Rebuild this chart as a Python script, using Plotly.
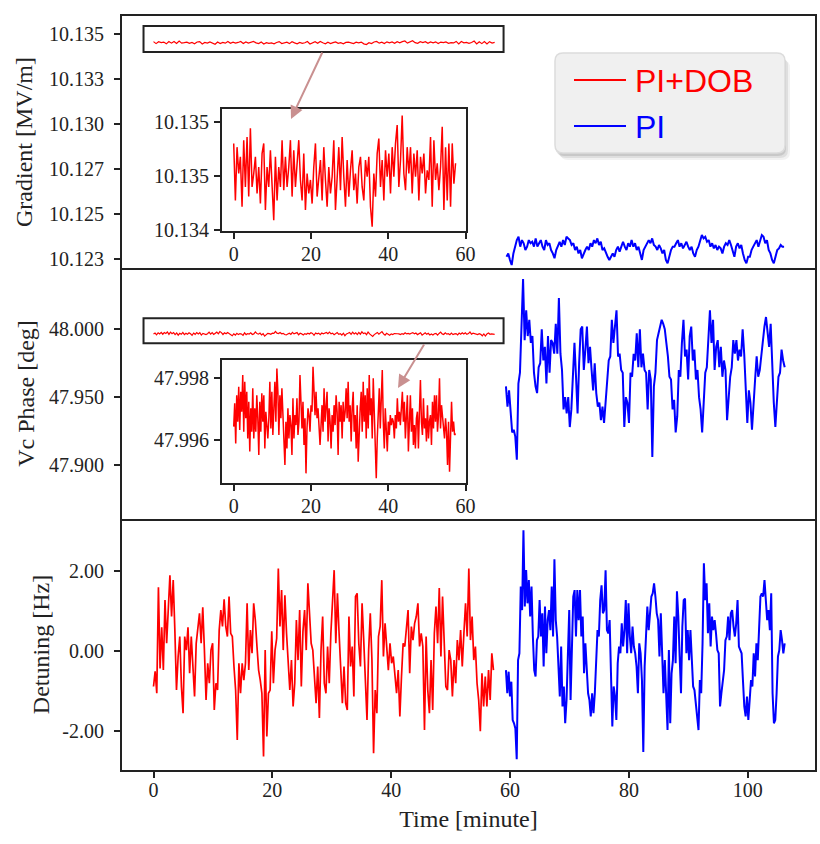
import numpy as np
import plotly.graph_objects as go

# ---------------- data ----------------
red_detuning = [
    -0.88, -0.5, -1.05, 1.6, -0.43, 0.6, -0.47, 1.28, 0.2, 1.3, 1.9, 0.87, 1.78, 0.53, -0.97, -0.13, 0.37, -0.88, -1.55, 0.37,
    0.03, 0.6, -0.55, 0.37, -0.3, -1.13, 0.2, 0.62, 0.95, 0.2, 1.1, 0.03, -1.22, -0.3, -0.8, 0.03, 0.2, -1.47, -0.8, -0.97,
    0.53, 1.03, 0.62, 1.3, 0.62, 0.37, 1.37, 0.45, 0.37, -0.38, -0.97, -2.22, -0.3, -1.05, -0.3, -0.72, -0.3, 1.2, -0.47, 0.53,
    -0.05, 1.2, 0.78, 0.12, -0.47, -0.72, -1.05, -2.63, 0.03, -2.13, -1.05, -0.97, 0.5, -0.8, 0.03, 0.32, 2.07, 0.62, 1.53, 0.03,
    1.4, 0.45, -0.13, -0.97, -0.22, -1.38, -0.8, 0.78, -0.22, 1.03, -0.88, 0.5, 1.03, 0.03, 1.7, 1.03, 0.2, 0.03, -0.72, -1.3,
    -0.38, -1.67, 0.03,
    0.87, -0.8, -1.05, 0.12, -0.8, 0.45, 1.45, 2.03, 0.2, 1.45, 0.45, -0.47, -1.3, -0.38, -1.3, -1.47, 0.87, -0.38, 0.12, -1.13,
    1.37, 1.45, 0.2, -0.38, 1.2, 0.28, -0.63, -1.72, 0.03, 0.95, -0.22, -2.55, -0.97, -1.55, 0.37, 0.62, 1.78, -0.13, 0.7, 0.03,
    -0.47, 0.2, -0.3, -0.13, -0.63, -1.05, -0.47, -1.63, -0.63, 0.2, 0.12, 0.62, 1.03, -0.55, 0.62, 0.28, 0.7, 0.87, 1.2, 0.12,
    0.45, 0.12, -1.97, 0.37, -0.97, -1.55, -0.22, -1.47, 0.45, 1.12, 0.2, 1.58, -0.13, 1.37, 0.03, -0.88, -0.97, 0.03, -0.22, -1.13,
    -0.22, -0.8, 0.28, -0.22, 0.53, -0.38, 0.45, 1.2, 0.37, 2.07, 0.28, 0.87, -0.22, 0.12, -0.8, -1.22, -2.0, -0.55, -1.38, -0.63,
    -1.38, -0.47, -1.22, -0.05, -0.47,
]

blue_detuning = [
    -0.47, -1.05, -0.51, -1.13, -0.76, -1.72, -1.8, -1.93, -2.7, -0.22, -0.05, 1.62, 1.03, 3.03, 1.12, 2.03, 1.2, 1.78, 0.87, 1.62,
    0.37, -0.47, -0.63, 0.28, 0.37, 1.28, 0.37, 0.95, -0.38, 1.12, -0.05, 0.78, 1.03, 0.53, 1.62, 0.37, 2.3, 0.78, 0.37, -0.55,
    -1.13, 0.12, -1.38, -0.88, -1.8, -1.22, -0.05, 1.03, -1.22, 0.03, 1.37, 1.53, 0.37, 1.53, 0.78, 1.53, 0.37, 0.87, -0.55, 0.2,
    -0.47, -1.05, -1.22, -1.63, -1.05, -1.55, -1.05, -0.05, 0.53, 0.37, 1.28, 1.65, 0.95, 1.03, 2.03, 0.53, 0.45, 0.78, -0.63, -1.88,
    -0.88, -1.13, -1.72, -0.3, 0.12, -0.05, 0.7, 0.12, 0.53, 1.28, -0.05, 1.2, 0.37, -0.05, 0.62, 0.12, -0.05, -0.38, -1.05, 0.2,
    -0.05, -0.72,
    -2.52, -0.38, 0.37, 1.12, 0.53, 0.95, 1.37, 1.45, 1.7, 1.37, 0.95, 0.78, -0.13, 0.95, 0.12, -1.05, -0.22, -1.22, -1.97, 0.03,
    -1.8, -0.55, -0.22, 0.87, -0.3, 1.5, 0.87, -0.13, -1.05, 0.62, 1.28, 1.32, -0.05, 0.53, -0.22, 0.53, -0.05, -0.88, -0.97, -1.3,
    -1.72, -1.97, -0.72, -1.05, 0.2, 2.2, 1.28, 1.7, 0.45, 1.2, 0.12, 0.87, 0.53, 0.78, 0.45, 0.03, -0.05, -1.38, -1.05, -0.72,
    -0.47, 0.28, 0.37, 0.87, 0.28, 0.95, 1.03, 0.62, 0.37, 0.7, 1.28, 0.12, 0.03, -0.05, -0.72, -1.38, -1.63, -1.13, -1.72, -1.05,
    -0.72, -0.88, -0.05, -0.63, 0.2, -0.22, 0.87, 1.37, 1.45, 1.37, 1.78, 1.2, 0.78, 1.03, 0.53, 1.45, -1.05, -1.8, -1.72, -1.05,
    -0.13, 0.03, 0.53, 0.28, -0.05, 0.2,
]

red_phase = [
    47.99643, 47.99718, 47.99589, 47.99744, 47.99659, 47.99771, 47.99632, 47.99755, 47.99691, 47.99809,
    47.99627, 47.99787, 47.99670, 47.99755, 47.99605, 47.99723, 47.99563, 47.99702, 47.99627, 47.99766,
    47.99605, 47.99702, 47.99627, 47.99744, 47.99670, 47.99552, 47.99723, 47.99627, 47.99750, 47.99659,
    47.99744, 47.99573, 47.99691, 47.99648, 47.99605, 47.99670, 47.99787, 47.99637, 47.99755, 47.99616,
    47.99691, 47.99787, 47.99659, 47.99830, 47.99755, 47.99616, 47.99744, 47.99670, 47.99766, 47.99691,
    47.99616, 47.99520, 47.99659, 47.99573, 47.99702, 47.99605, 47.99680, 47.99648, 47.99552, 47.99734,
    47.99605, 47.99680, 47.99648, 47.99734, 47.99616, 47.99659, 47.99809, 47.99680, 47.99637, 47.99723,
    47.99584, 47.99670, 47.99493, 47.99637, 47.99702, 47.99680, 47.99627, 47.99712, 47.99691, 47.99835,
    47.99712, 47.99680, 47.99755, 47.99670, 47.99702, 47.99616, 47.99584, 47.99648, 47.99712, 47.99627,
    47.99766, 47.99659, 47.99702, 47.99755, 47.99595, 47.99702, 47.99659, 47.99573, 47.99680, 47.99627,
    47.99712, 47.99648, 47.99744, 47.99691, 47.99552, 47.99723, 47.99659, 47.99712, 47.99605, 47.99723,
    47.99659, 47.99691, 47.99766, 47.99670, 47.99787, 47.99659, 47.99712, 47.99595, 47.99702, 47.99755,
    47.99627, 47.99680, 47.99573, 47.99712, 47.99530, 47.99659, 47.99702, 47.99755, 47.99627, 47.99787,
    47.99659, 47.99744, 47.99605, 47.99766, 47.99637, 47.99809, 47.99680, 47.99734, 47.99605, 47.99798,
    47.99659, 47.99563, 47.99477, 47.99605, 47.99680, 47.99766, 47.99637, 47.99723, 47.99825, 47.99659,
    47.99573, 47.99702, 47.99627, 47.99563, 47.99659, 47.99616, 47.99680, 47.99648, 47.99670, 47.99659,
    47.99605, 47.99680, 47.99637, 47.99734, 47.99659, 47.99691, 47.99648, 47.99712, 47.99755, 47.99659,
    47.99723, 47.99605, 47.99702, 47.99744, 47.99563, 47.99659, 47.99744, 47.99627, 47.99702, 47.99584,
    47.99648, 47.99573, 47.99670, 47.99691, 47.99573, 47.99691, 47.99793, 47.99659, 47.99616, 47.99734,
    47.99637, 47.99670, 47.99595, 47.99712, 47.99605, 47.99659, 47.99680, 47.99584, 47.99723, 47.99637,
    47.99744, 47.99659, 47.99744, 47.99627, 47.99680, 47.99798, 47.99637, 47.99712, 47.99680, 47.99659,
    47.99605, 47.99670, 47.99627, 47.99520, 47.99659, 47.99498, 47.99659, 47.99723, 47.99627, 47.99659,
    47.99616, 47.99621,
]

blue_phase = [
    47.958, 47.943, 47.955, 47.941, 47.924, 47.926, 47.921, 47.904, 47.960, 47.968, 48.002, 48.037, 47.992, 48.014, 47.995, 48.007,
    47.990, 47.995, 47.968, 47.958, 47.953, 47.972, 47.975, 48.000, 47.977, 47.987, 47.960, 47.995, 47.968, 47.992, 47.990, 47.982,
    48.004, 47.982, 48.023, 47.982, 47.970, 47.941, 47.950, 47.938, 47.950, 47.928, 47.941, 47.970, 47.990, 47.965, 47.938, 47.975,
    48.000, 48.002, 47.970, 47.985, 48.002, 47.975, 47.987, 47.970, 47.955, 47.975, 47.953, 47.943, 47.946, 47.933, 47.943, 47.931,
    47.946, 47.965, 47.977, 47.980, 48.007, 47.990, 48.000, 48.014, 47.980, 47.982, 47.970, 47.968, 47.928, 47.950, 47.946, 47.931,
    47.968, 47.965, 47.982, 47.977, 47.997, 47.972, 48.000, 47.972, 47.982, 47.970, 47.968, 47.941, 47.970, 47.963, 47.906, 47.958,
    47.968, 47.992, 47.997, 48.002, 48.007, 48.004, 48.000, 47.990, 47.980, 47.965, 47.963, 47.941, 47.948, 47.924, 47.936, 47.970,
    47.965, 47.990, 48.007, 47.980, 47.985, 47.963, 47.995, 48.002, 47.977, 47.985, 47.963, 47.970, 47.950, 47.941, 47.924, 47.946,
    47.968, 47.972, 47.995, 48.014, 47.990, 48.007, 47.970, 47.987, 47.992, 47.972, 47.987, 47.965, 47.977, 47.970, 47.933, 47.950,
    47.965, 47.972, 47.992, 47.982, 47.992, 47.977, 47.985, 47.980, 48.000, 47.982, 47.960, 47.931, 47.955, 47.946, 47.926, 47.950,
    47.963, 47.980, 47.965, 47.970, 47.982, 47.990, 48.002, 48.009, 47.995, 47.987, 48.004, 47.970, 47.946, 47.928, 47.946, 47.965,
    47.968, 47.985, 47.977, 47.972,
]

red_gradient = [
    10.134611, 10.134505, 10.134604, 10.134555, 10.134586, 10.134493, 10.134617, 10.134530, 10.134623, 10.134512,
    10.134639, 10.134530, 10.134555, 10.134586, 10.134518, 10.134567, 10.134499, 10.134592, 10.134611, 10.134487,
    10.134567, 10.134530, 10.134598, 10.134530, 10.134468, 10.134586, 10.134505, 10.134567, 10.134530, 10.134617,
    10.134524, 10.134586, 10.134530, 10.134567, 10.134617, 10.134512, 10.134598, 10.134530, 10.134567, 10.134617,
    10.134543, 10.134505, 10.134592, 10.134487, 10.134555, 10.134518, 10.134543, 10.134499, 10.134567, 10.134611,
    10.134512, 10.134549, 10.134580, 10.134505, 10.134604, 10.134543, 10.134493, 10.134567, 10.134518, 10.134549,
    10.134617, 10.134487, 10.134555, 10.134604, 10.134524, 10.134623, 10.134549, 10.134493, 10.134580, 10.134512,
    10.134561, 10.134598, 10.134524, 10.134555, 10.134499, 10.134567, 10.134586, 10.134530, 10.134505, 10.134580,
    10.134549, 10.134586, 10.134493, 10.134456, 10.134555, 10.134512, 10.134592, 10.134620, 10.134530, 10.134580,
    10.134505, 10.134598, 10.134549, 10.134592, 10.134518, 10.134604, 10.134549, 10.134611, 10.134645, 10.134530,
    10.134580, 10.134663, 10.134555, 10.134524, 10.134604, 10.134555, 10.134604, 10.134518, 10.134592, 10.134549,
    10.134598, 10.134505, 10.134586, 10.134555, 10.134592, 10.134518, 10.134561, 10.134543, 10.134623, 10.134493,
    10.134617, 10.134543, 10.134574, 10.134524, 10.134567, 10.134642, 10.134487, 10.134604, 10.134505, 10.134611,
    10.134493, 10.134611, 10.134536, 10.134574,
]

blue_gradient = [
    10.12312, 10.12330, 10.12295, 10.12268, 10.12330, 10.12366, 10.12401, 10.12419, 10.12366, 10.12401, 10.12384, 10.12348,
    10.12366, 10.12401, 10.12384, 10.12392, 10.12366, 10.12410, 10.12366, 10.12384, 10.12401, 10.12366, 10.12348, 10.12401,
    10.12375, 10.12384, 10.12348, 10.12330, 10.12304, 10.12348, 10.12366, 10.12392, 10.12366, 10.12401, 10.12375, 10.12419,
    10.12410, 10.12401, 10.12375, 10.12384, 10.12348, 10.12366, 10.12330, 10.12348, 10.12304, 10.12330, 10.12348, 10.12366,
    10.12348, 10.12384, 10.12366, 10.12401, 10.12384, 10.12410, 10.12375, 10.12392, 10.12348, 10.12357, 10.12330, 10.12312,
    10.12295, 10.12312, 10.12330, 10.12312, 10.12348, 10.12366, 10.12339, 10.12366, 10.12392, 10.12366, 10.12348, 10.12384,
    10.12366, 10.12401, 10.12366, 10.12384, 10.12348, 10.12366, 10.12330, 10.12295, 10.12348, 10.12366, 10.12384, 10.12401,
    10.12384, 10.12410, 10.12375, 10.12366, 10.12348, 10.12375, 10.12357, 10.12330, 10.12348, 10.12295, 10.12277, 10.12312,
    10.12348, 10.12366, 10.12366, 10.12384, 10.12401, 10.12366, 10.12384, 10.12357, 10.12375, 10.12392, 10.12366, 10.12348,
    10.12366, 10.12330, 10.12312, 10.12348, 10.12366, 10.12401, 10.12428, 10.12410, 10.12419, 10.12392, 10.12401, 10.12366,
    10.12384, 10.12357, 10.12375, 10.12348, 10.12366, 10.12357, 10.12330, 10.12366, 10.12384, 10.12375, 10.12401, 10.12375,
    10.12348, 10.12312, 10.12366, 10.12384, 10.12357, 10.12375, 10.12330, 10.12295, 10.12277, 10.12312, 10.12312, 10.12348,
    10.12366, 10.12384, 10.12401, 10.12366, 10.12401, 10.12428, 10.12419, 10.12384, 10.12401, 10.12348, 10.12330, 10.12295,
    10.12277, 10.12312, 10.12348, 10.12357, 10.12375, 10.12366, 10.12366,
]

# time spans of the two runs [minute]
red_t_start, red_t_end = 0.0, 57.2
blue_t_start, blue_t_end = 59.3, 106.2

series_names = ["PI+DOB", "PI"]
x_ticks = [0, 20, 40, 60, 80, 100]
inset_x_ticks = [0, 20, 40, 60]
grad_tickvals = [10.123, 10.1254, 10.1278, 10.1302, 10.1326, 10.135]
grad_ticktext = ["10.123", "10.125", "10.127", "10.130", "10.133", "10.135"]
phase_tickvals = [47.90, 47.95, 48.00]
phase_ticktext = ["47.900", "47.950", "48.000"]
det_tickvals = [-2, 0, 2]
det_ticktext = ["-2.00", "0.00", "2.00"]
ins_grad_tickvals = [10.13445, 10.13455, 10.13465]
ins_grad_ticktext = ["10.134", "10.135", "10.135"]
ins_phase_tickvals = [47.996, 47.998]
ins_phase_ticktext = ["47.996", "47.998"]

# ---------------- figure ----------------
def tl(a, b, n):
    return np.linspace(a, b, n)

t_rd = tl(red_t_start, red_t_end, len(red_detuning))
t_bd = tl(blue_t_start, blue_t_end, len(blue_detuning))
t_rp = tl(red_t_start, 57.4, len(red_phase))
t_bp = tl(blue_t_start, blue_t_end, len(blue_phase))
t_rg = tl(red_t_start, 57.4, len(red_gradient))
t_bg = tl(59.4, 106.1, len(blue_gradient))

RED = "#ff0000"
BLUE = "#0000ff"
fig = go.Figure()

fig.add_trace(go.Scatter(x=t_rd, y=red_detuning, mode="lines", line=dict(color=RED, width=1.7),
                         name=series_names[0], showlegend=False, xaxis="x", yaxis="y"))
fig.add_trace(go.Scatter(x=t_bd, y=blue_detuning, mode="lines", line=dict(color=BLUE, width=2),
                         name=series_names[1], showlegend=False, xaxis="x", yaxis="y"))
fig.add_trace(go.Scatter(x=t_rp, y=red_phase, mode="lines", line=dict(color=RED, width=1.2),
                         name=series_names[0], showlegend=False, xaxis="x2", yaxis="y2"))
fig.add_trace(go.Scatter(x=t_bp, y=blue_phase, mode="lines", line=dict(color=BLUE, width=2),
                         name=series_names[1], showlegend=False, xaxis="x2", yaxis="y2"))
fig.add_trace(go.Scatter(x=t_rg, y=red_gradient, mode="lines", line=dict(color=RED, width=1.2),
                         name=series_names[0], showlegend=False, xaxis="x3", yaxis="y3"))
fig.add_trace(go.Scatter(x=t_bg, y=blue_gradient, mode="lines", line=dict(color=BLUE, width=2),
                         name=series_names[1], showlegend=False, xaxis="x3", yaxis="y3"))
# insets
fig.add_trace(go.Scatter(x=t_rg, y=red_gradient, mode="lines", line=dict(color=RED, width=1.5),
                         name=series_names[0], showlegend=False, xaxis="x4", yaxis="y4"))
fig.add_trace(go.Scatter(x=t_rp, y=red_phase, mode="lines", line=dict(color=RED, width=1.5),
                         name=series_names[0], showlegend=False, xaxis="x5", yaxis="y5"))

SERIF = "Liberation Serif"
INK = "#222"
tickfont = dict(family=SERIF, size=20, color=INK)
titlefont = dict(family=SERIF, size=24, color=INK)
yframe = dict(showline=True, mirror=True, linecolor=INK, linewidth=2, showgrid=False, zeroline=False, automargin=False)
base = dict(linecolor=INK, linewidth=2, showgrid=False, zeroline=False, automargin=False)

# paper geometry
L, R, T, B = 122, 5, 16, 74
W, H = 820, 844
PW, PH = W - L - R, H - T - B
def px(xp):
    return (xp - L) / PW
def py(yp):
    return (H - B - yp) / PH

d_bot = [0, py(519)]
d_mid = [py(519), py(268)]
d_top = [py(268), 1]
xr = [-5.3, 111.3]
yt = dict(ticks="outside", ticklen=6, tickwidth=1.5, tickcolor=INK, tickfont=tickfont)

fig.update_layout(
    width=W, height=H, margin=dict(l=L, r=R, t=T, b=B),
    plot_bgcolor="white", paper_bgcolor="white", showlegend=False,
    xaxis=dict(domain=[0, 1], anchor="y", range=xr, tickvals=x_ticks, ticklabelstandoff=-5,
               title=dict(text="Time [minute]", font=titlefont, standoff=10), showline=True, mirror=False,
               **yt, **base),
    yaxis=dict(domain=d_bot, anchor="x", range=[-2.97, 3.31], tickvals=det_tickvals, ticktext=det_ticktext,
               ticklabelstandoff=6, title=dict(text="Detuning [Hz]", font=titlefont, standoff=6), **yt, **yframe),
    xaxis2=dict(domain=[0, 1], anchor="y2", range=xr, matches="x", showticklabels=False, ticks="",
                showline=True, mirror=False, **base),
    yaxis2=dict(domain=d_mid, anchor="x2", range=[47.8603, 48.0451], tickvals=phase_tickvals, ticktext=phase_ticktext,
                ticklabelstandoff=6, title=dict(text="Vc Phase [deg]", font=titlefont, standoff=8), **yt, **yframe),
    xaxis3=dict(domain=[0, 1], anchor="y3", range=xr, matches="x", showticklabels=False, ticks="",
                showline=True, mirror=True, **base),
    yaxis3=dict(domain=d_top, anchor="x3", range=[10.12252, 10.13598], tickvals=grad_tickvals, ticktext=grad_ticktext,
                ticklabelstandoff=6, title=dict(text="Gradient [MV/m]", font=titlefont, standoff=10), **yt, **yframe),
    xaxis4=dict(domain=[px(222), px(466)], anchor="y4", range=[-3.03, 60.1], tickvals=inset_x_ticks,
                ticklabelstandoff=-2, showline=True, mirror=True, **yt, **base),
    yaxis4=dict(domain=[py(231), py(109)], anchor="x4", range=[10.134448, 10.134675], tickvals=ins_grad_tickvals,
                ticktext=ins_grad_ticktext, ticklabelstandoff=1, **yt, **yframe),
    xaxis5=dict(domain=[px(222), px(466)], anchor="y5", range=[-3.03, 60.1], tickvals=inset_x_ticks,
                ticklabelstandoff=-2, showline=True, mirror=True, **yt, **base),
    yaxis5=dict(domain=[py(482.7), py(360)], anchor="x5", range=[47.99463, 47.99857], tickvals=ins_phase_tickvals,
                ticktext=ins_phase_ticktext, ticklabelstandoff=1, **yt, **yframe),
)

# zoom indicator rectangles around the flat red traces
fig.add_shape(type="rect", xref="x3", yref="y3", x0=-1.68, x1=58.9, y0=10.13406, y1=10.13544,
              line=dict(color=INK, width=2), fillcolor="rgba(0,0,0,0)")
fig.add_shape(type="rect", xref="x2", yref="y2", x0=-1.68, x1=58.9, y0=47.9897, y1=48.0081,
              line=dict(color=INK, width=2), fillcolor="rgba(0,0,0,0)")

# legend box with soft shadow and rounded corners
def rounded(x0p, y0p, x1p, y1p, r=8):
    x0, x1, y0, y1 = px(x0p), px(x1p), py(y1p), py(y0p)
    rx, ry = r / PW, r / PH
    return (f"M {x0+rx},{y0} L {x1-rx},{y0} Q {x1},{y0} {x1},{y0+ry} L {x1},{y1-ry} Q {x1},{y1} {x1-rx},{y1} "
            f"L {x0+rx},{y1} Q {x0},{y1} {x0},{y1-ry} L {x0},{y0+ry} Q {x0},{y0} {x0+rx},{y0} Z")

for off, a in [(7, 0.05), (5, 0.08), (3, 0.10)]:
    fig.add_shape(type="path", xref="paper", yref="paper", path=rounded(555 + off - 2, 53 + off, 785 + off - 2, 153 + off),
                  line=dict(width=0), fillcolor=f"rgba(0,0,0,{a})", layer="above")
fig.add_shape(type="path", xref="paper", yref="paper", path=rounded(555, 53, 785, 153),
              line=dict(color="#dcdcdc", width=1.5), fillcolor="#f0f0f0", layer="above")

# legend entries
for name, col, yy in [(series_names[0], RED, 80), (series_names[1], BLUE, 126)]:
    fig.add_shape(type="line", xref="paper", yref="paper", x0=px(574), x1=px(626), y0=py(yy), y1=py(yy),
                  line=dict(color=col, width=2), layer="above")
    fig.add_annotation(xref="paper", yref="paper", x=px(633), y=py(yy + 1), xanchor="left", yanchor="middle",
                       text=name, showarrow=False, font=dict(family="Liberation Sans", size=32, color=col))

# arrows from the zoom boxes to the insets
fig.add_annotation(xref="paper", yref="paper", x=px(291), y=py(119), ax=32, ay=-68, text="", showarrow=True,
                   arrowhead=2, arrowsize=1.3, arrowwidth=2, arrowcolor="#c99090")
fig.add_annotation(xref="paper", yref="paper", x=px(398), y=py(388), ax=27, ay=-45, text="", showarrow=True,
                   arrowhead=2, arrowsize=1.3, arrowwidth=2, arrowcolor="#c99090")

fig.write_html("out.html")
